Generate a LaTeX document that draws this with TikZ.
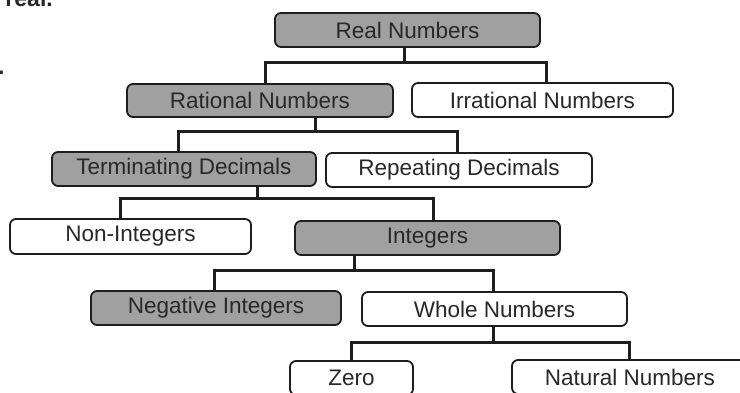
\documentclass[tikz,border=0pt]{standalone}
\usepackage{fontspec}
\setmainfont{Liberation Sans}
\definecolor{boxgray}{RGB}{160,160,160}
\definecolor{ink}{RGB}{40,40,40}
\definecolor{edge}{RGB}{30,30,30}
\tikzset{
  nbox/.style={draw=edge, line width=1.8pt, rounded corners=6pt, inner sep=0pt,
    text=ink, font=\fontsize{22.5}{24}\selectfont, minimum height=34pt},
  gbox/.style={nbox, fill=boxgray},
  wbox/.style={nbox, fill=white},
  conn/.style={draw=edge, line width=3pt, line join=miter},
  frag/.style={inner sep=0pt, text=ink, font=\fontsize{23}{24}\selectfont\bfseries}
}
\begin{document}
\begin{tikzpicture}[x=1pt, y=-1pt]
\useasboundingbox (0,0) rectangle (740,393);
\clip (0,0) rectangle (740,393);
\fill[white] (0,0) rectangle (740,393);

\node[frag, anchor=base east] (fragA) at (53,7) {real.};
\node[frag, anchor=base west] (fragB) at (-2,75) {.};

\node[gbox, minimum width=265pt] (real) at (407.5,30) {Real Numbers};
\node[gbox, minimum width=266pt, minimum height=33pt] (rational) at (260,100.5) {Rational Numbers};
\node[wbox, minimum width=261pt] (irrational) at (542.5,100) {Irrational Numbers};
\node[gbox, minimum width=264pt] (term) at (184,169) {Terminating Decimals};
\node[wbox, minimum width=266pt] (rep) at (459,170) {Repeating Decimals};
\node[wbox, minimum width=241pt, minimum height=35pt] (nonint) at (130.5,236.5) {Non-Integers};
\node[gbox, minimum width=265pt] (integers) at (427.5,238) {Integers};
\node[gbox, minimum width=250pt] (neg) at (216,308) {Negative Integers};
\node[wbox, minimum width=265pt] (whole) at (494.5,309) {Whole Numbers};
\node[wbox, minimum width=123pt] (zero) at (351.5,378) {Zero};
\node[wbox, minimum width=236pt] (natural) at (630,377) {Natural Numbers};

\coordinate (f1) at (404,63);
\coordinate (f2) at (315,132);
\coordinate (f3) at (257,199);
\coordinate (f4) at (354,271);
\coordinate (f5) at (493,342);

\draw[conn] (real.south -| f1) -- (f1);
\draw[conn] (rational.north -| 265,0) |- (f1) -| (irrational.north -| 546,0);

\draw[conn] (rational.south -| f2) -- (f2);
\draw[conn] (term.north -| 178,0) |- (f2) -| (rep.north -| 457,0);

\draw[conn] (term.south -| f3) -- (f3);
\draw[conn] (nonint.north -| 120,0) |- (f3) -| (integers.north -| 433,0);

\draw[conn] (integers.south -| f4) -- (f4);
\draw[conn] (neg.north -| 214,0) |- (f4) -| (whole.north -| f5);

\draw[conn] (whole.south -| f5) -- (f5);
\draw[conn] (zero.north -| 351,0) |- (f5) -| (natural.north -| 629,0);
\end{tikzpicture}
\end{document}
